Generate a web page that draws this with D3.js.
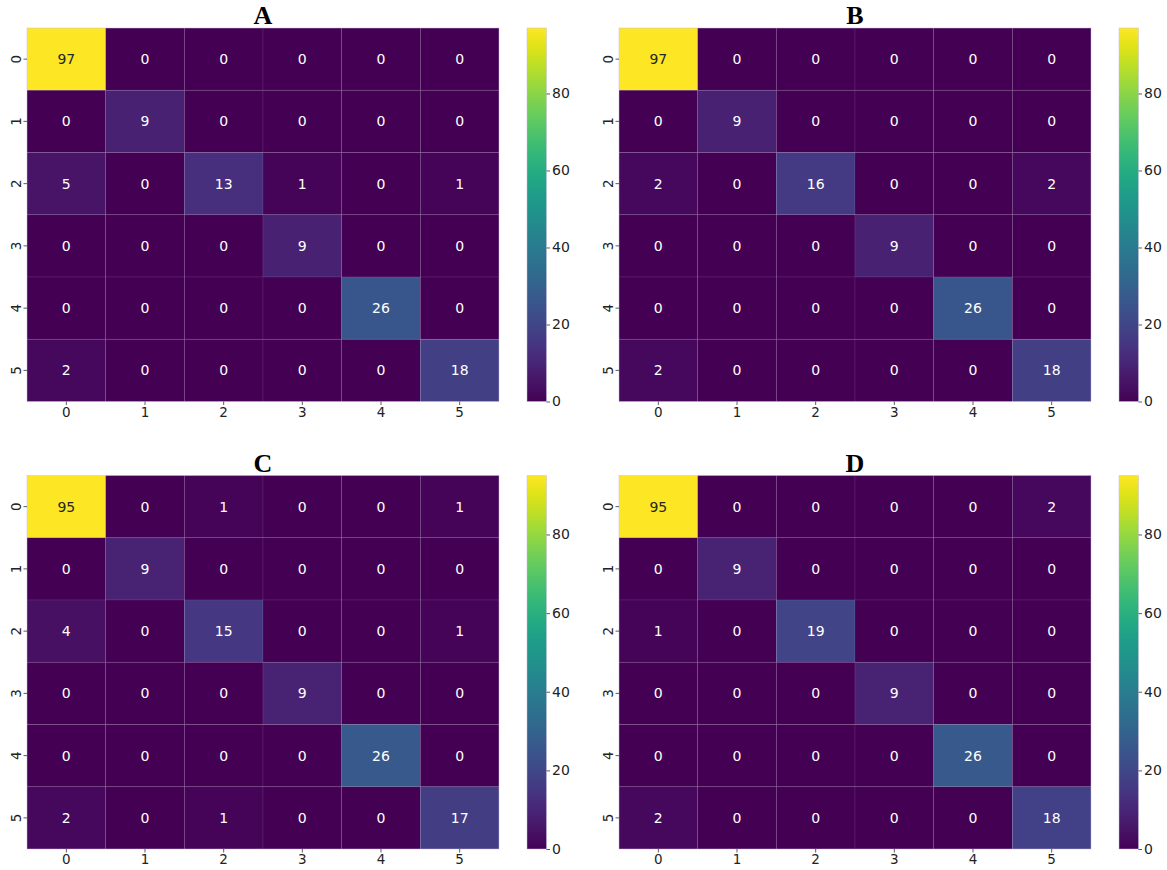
<!DOCTYPE html>
<html>
<head>
<meta charset="utf-8">
<script src="https://cdn.jsdelivr.net/npm/d3@7"></script>
<style>
  body { margin: 0; background: #fff; }
  text { font-family: "DejaVu Sans", sans-serif; }
</style>
</head>
<body>
<svg id="chart" width="1167" height="870"></svg>
<script>
// confusion matrices, rows = true class, cols = predicted
const labels = [0, 1, 2, 3, 4, 5];
const titles = ["A", "B", "C", "D"];
const matA = [
  [97, 0, 0, 0, 0, 0],
  [0, 9, 0, 0, 0, 0],
  [5, 0, 13, 1, 0, 1],
  [0, 0, 0, 9, 0, 0],
  [0, 0, 0, 0, 26, 0],
  [2, 0, 0, 0, 0, 18]
];
const matB = [
  [97, 0, 0, 0, 0, 0],
  [0, 9, 0, 0, 0, 0],
  [2, 0, 16, 0, 0, 2],
  [0, 0, 0, 9, 0, 0],
  [0, 0, 0, 0, 26, 0],
  [2, 0, 0, 0, 0, 18]
];
const matC = [
  [95, 0, 1, 0, 0, 1],
  [0, 9, 0, 0, 0, 0],
  [4, 0, 15, 0, 0, 1],
  [0, 0, 0, 9, 0, 0],
  [0, 0, 0, 0, 26, 0],
  [2, 0, 1, 0, 0, 17]
];
const matD = [
  [95, 0, 0, 0, 0, 2],
  [0, 9, 0, 0, 0, 0],
  [1, 0, 19, 0, 0, 0],
  [0, 0, 0, 9, 0, 0],
  [0, 0, 0, 0, 26, 0],
  [2, 0, 0, 0, 0, 18]
];
const colorbarTicks = [0, 20, 40, 60, 80];
const matrices = [matA, matB, matC, matD];

const svg = d3.select("#chart");
const hmW = 472, hmH = 373.5;
const origins = [
  { x: 27, y: 28 },
  { x: 619, y: 28 },
  { x: 27, y: 475.5 },
  { x: 619, y: 475.5 }
];

matrices.forEach((mat, i) => {
  const o = origins[i];
  const g = svg.append("g").attr("transform", `translate(${o.x},${o.y})`);
  const vmax = d3.max(mat.flat());
  const color = d3.scaleSequential(d3.interpolateViridis).domain([0, vmax]);

  const x = d3.scaleBand().domain(labels).range([0, hmW]);
  const y = d3.scaleBand().domain(labels).range([0, hmH]);

  const cells = mat.flatMap((row, r) => row.map((v, c) => ({ r, c, v })));

  g.selectAll("rect.cell")
    .data(cells)
    .enter()
    .append("rect")
    .attr("class", "cell")
    .attr("x", (d) => x(d.c))
    .attr("y", (d) => y(d.r))
    .attr("width", x.bandwidth())
    .attr("height", y.bandwidth())
    .attr("fill", (d) => color(d.v))
    .attr("stroke", "rgba(235,225,245,0.1)")
    .attr("stroke-width", 0.8);

  // light outer edge like the reference
  g.append("rect")
    .attr("width", hmW)
    .attr("height", hmH)
    .attr("fill", "none")
    .attr("stroke", "rgba(200,185,220,0.5)")
    .attr("stroke-width", 0.8);

  g.selectAll("text.annot")
    .data(cells)
    .enter()
    .append("text")
    .attr("class", "annot")
    .attr("x", (d) => x(d.c) + x.bandwidth() / 2)
    .attr("y", (d) => y(d.r) + y.bandwidth() / 2)
    .attr("dy", "0.35em")
    .attr("text-anchor", "middle")
    .attr("font-size", 14)
    .attr("fill", (d) => (d.v / vmax > 0.6 ? "#262626" : "#ffffff"))
    .text((d) => d.v);

  // axes
  const xAxis = g.append("g")
    .attr("transform", `translate(0,${hmH})`)
    .call(d3.axisBottom(x).tickSize(3.5).tickPadding(2));
  xAxis.select(".domain").remove();
  xAxis.selectAll("line").attr("stroke", "#333").attr("stroke-width", 0.8);
  xAxis.selectAll("text").attr("font-size", 13.5).attr("fill", "#222")
    .style("font-family", "DejaVu Sans, sans-serif");

  const yAxis = g.append("g")
    .call(d3.axisLeft(y).tickSize(3.5).tickPadding(0));
  yAxis.select(".domain").remove();
  yAxis.selectAll("line").attr("stroke", "#333").attr("stroke-width", 0.8);
  yAxis.selectAll("text")
    .attr("font-size", 13.5).attr("fill", "#222")
    .style("font-family", "DejaVu Sans, sans-serif")
    .attr("x", null)
    .attr("text-anchor", "middle")
    .attr("transform", "translate(-11,0) rotate(-90)")
    .attr("y", 0)
    .attr("dy", "0.35em");

  // title
  g.append("text")
    .attr("x", hmW / 2)
    .attr("y", -4)
    .attr("text-anchor", "middle")
    .attr("font-size", 26)
    .attr("font-weight", "bold")
    .style("font-family", "Liberation Serif, Times New Roman, serif")
    .text(titles[i]);

  // colorbar
  const cbX = 500, cbW = 19.5;
  const cbScale = d3.scaleLinear().domain([0, vmax]).range([hmH, 0]);
  const gradId = "grad" + i;
  const grad = svg.append("defs").append("linearGradient")
    .attr("id", gradId)
    .attr("x1", 0).attr("y1", 1).attr("x2", 0).attr("y2", 0);
  d3.range(0, 1.0001, 0.05).forEach((t) => {
    grad.append("stop")
      .attr("offset", t)
      .attr("stop-color", d3.interpolateViridis(t));
  });
  const cb = g.append("g").attr("transform", `translate(${cbX},0)`);
  cb.append("rect")
    .attr("width", cbW)
    .attr("height", hmH)
    .attr("fill", `url(#${gradId})`)
    .attr("stroke", "rgba(200,190,220,0.6)")
    .attr("stroke-width", 0.8);
  const cbAxis = cb.append("g")
    .attr("transform", `translate(${cbW},0)`)
    .call(d3.axisRight(cbScale).tickValues(colorbarTicks).tickSize(3.5).tickPadding(2));
  cbAxis.select(".domain").remove();
  cbAxis.selectAll("line").attr("stroke", "#333").attr("stroke-width", 0.8);
  cbAxis.selectAll("text").attr("font-size", 14).attr("fill", "#222")
    .style("font-family", "DejaVu Sans, sans-serif");
});
</script>
</body>
</html>
